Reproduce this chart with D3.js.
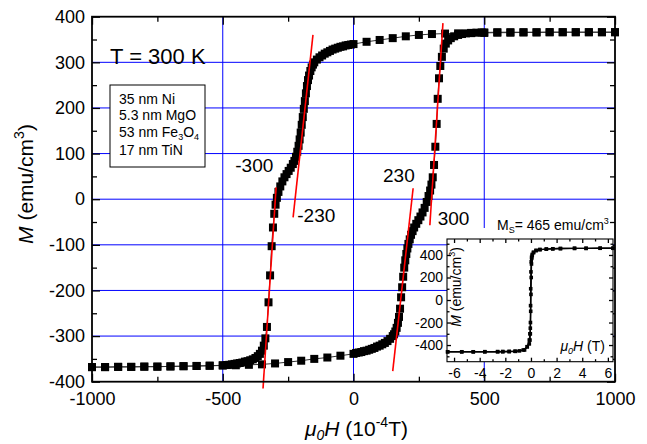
<!DOCTYPE html>
<html>
<head>
<meta charset="utf-8">
<script src="https://cdn.jsdelivr.net/npm/d3@7"></script>
<style>
  body { margin: 0; background: #fff; }
  svg { display: block; font-family: "Liberation Sans", Arial, sans-serif; }
</style>
</head>
<body>
<script>
// descending branch (field swept +1000 -> -1000)
const descH = [1000, 950, 900, 850, 800, 750, 700, 650, 600, 550, 500, 450, 400, 350, 300, 250, 200, 150, 100, 50, 0,
  -10, -20, -30, -40, -50, -60, -70, -80, -90, -100, -110, -120, -130, -140, -150,
  -155, -160, -165, -170, -174, -178, -182, -186, -190, -194, -198, -202, -206, -210,
  -215, -220, -226, -232, -240, -248, -256, -264, -272, -280,
  -287, -293, -298, -303, -308, -313, -319, -325, -331, -337, -343,
  -350, -358, -366, -375, -385, -395, -405, -415, -425, -435, -445, -455, -465, -475, -485, -500,
  -550, -600, -650, -700, -750, -800, -850, -900, -950, -1000];
const descM = [366, 366, 366, 366, 366, 366, 365.5, 365.5, 365, 365, 364.5, 364, 363.5, 363, 362, 360, 357, 353, 349, 345, 340,
  339, 338, 337, 335, 334, 332, 330, 328, 325, 322, 319, 315, 311, 306, 300,
  295, 289, 281, 271, 261, 248, 232, 215, 198, 180, 163, 146, 131, 117,
  104, 93, 84, 77, 69, 62, 55, 48, 39, 28,
  16, 3, -12, -32, -62, -103, -167, -226, -280, -305, -321,
  -332, -339, -344, -348, -351, -353, -355, -356, -358, -359, -360, -361, -362, -363, -363.5, -364,
  -365, -365.5, -366, -366.5, -367, -367, -367.5, -367.5, -368, -368];

// ascending branch (field swept -1000 -> +1000)
const ascH = [-1000, -950, -900, -850, -800, -750, -700, -650, -600, -550, -500, -450, -400, -350, -300, -250, -200, -150, -100, -50, 0,
  10, 20, 30, 40, 50, 60, 70, 80, 90, 100, 110, 120, 130, 140, 150,
  155, 160, 165, 170, 174, 178, 182, 186, 190, 194, 198, 202, 206, 210,
  215, 220, 226, 232, 240, 248, 256, 264, 272, 280,
  287, 293, 298, 303, 308, 313, 318, 322, 327, 332, 338, 345,
  353, 362, 372, 385, 400, 415, 430, 450, 470, 490,
  500, 550, 600, 650, 700, 750, 800, 850, 900, 950, 1000];
const ascM = [-368, -368, -367.5, -367.5, -367, -367, -366.5, -366, -365.5, -365, -364.5, -364, -363, -362, -360, -357, -354, -350, -347, -343, -339,
  -337, -336, -335, -333, -332, -330, -328, -326, -323, -321, -318, -315, -311, -306, -300,
  -296, -290, -282, -271, -258, -240, -215, -193, -170, -150, -134, -120, -108, -98,
  -88, -78, -70, -62, -54, -46, -38, -29, -19, -6,
  7, 19, 32, 48, 75, 115, 165, 220, 265, 292, 312, 330,
  341, 348, 353, 357, 360, 362, 363.5, 364.5, 365, 365.5,
  365.5, 366, 366, 366, 366, 366, 366, 366, 366, 366, 366];

// red tangent lines [H1, M1, H2, M2]
const tangents = [
  [-155, 360, -231, -40],
  [-296, 26, -346, -415],
  [342, 386, 292, -57],
  [150, -377, 228, 24]
];
const notes = [
  { text: "-300", h: -452, m: 59 },
  { text: "-230", h: -215, m: -50 },
  { text: "230", h: 113, m: 37 },
  { text: "300", h: 322, m: -57 }
];

const xMajor = [-1000, -500, 0, 500, 1000];
const xMinor = [-750, -250, 250, 750];
const yMajor = [-400, -300, -200, -100, 0, 100, 200, 300, 400];
const yMinor = [-350, -250, -150, -50, 50, 150, 250, 350];
const xGrid = [-500, 0, 500];
const yGrid = [-300, -200, -100, 0, 100, 200, 300];

const layers = ["35 nm Ni", "5.3 nm MgO", "53 nm Fe|3|O|4", "17 nm TiN"];

// inset: wide field loop in tesla
const inDescT = [6.4, 5.4, 4.3, 3.4, 2.3, 1.7, 1.2, 0.7, 0.4, 0.2, 0.1, 0.05, 0.02, 0, -0.02, -0.03, -0.04, -0.05, -0.08, -0.13, -0.29, -0.6, -1.2, -1.7, -2.2, -2.6, -3.6, -4.5, -5.4, -6.5];
const inDescM = [460, 460, 459, 459, 457, 455, 452, 448, 440, 425, 405, 380, 340, 250, 100, -50, -200, -300, -356, -390, -415, -444, -456, -458, -459, -459, -460, -460, -460, -460];
const inAscT = [-6.5, -5.4, -4.5, -3.6, -2.6, -2.2, -1.7, -1.25, -0.9, -0.5, -0.29, -0.13, -0.08, -0.05, -0.02, 0, 0.02, 0.04, 0.06, 0.1, 0.2, 0.4, 0.7, 1.2, 1.7, 2.3, 3.4, 4.3, 5.4, 6.4];
const inAscM = [-460, -460, -460, -459, -459, -458, -457, -455, -452, -444, -415, -356, -300, -250, -100, 50, 200, 320, 370, 395, 420, 440, 448, 452, 455, 457, 459, 459, 460, 460];
const inXMajor = [-6, -4, -2, 0, 2, 4, 6];
const inXMinor = [-5, -3, -1, 1, 3, 5];
const inYMajor = [-400, -200, 0, 200, 400];
const inYMinor = [-500, -300, -100, 100, 300, 500];

const width = 647, height = 444;
const font = '"Liberation Sans", Arial, sans-serif';

const svg = d3.select("body").append("svg")
  .attr("width", width)
  .attr("height", height);

const x = d3.scaleLinear([-1000, 1000], [92, 615]);
const y = d3.scaleLinear([-400, 400], [381.7, 16.7]);

// grid
const grid = svg.append("g").attr("stroke", "#0000ff").attr("stroke-width", 1);
grid.selectAll(".gx").data(xGrid).join("line").attr("class", "gx")
  .attr("x1", d => x(d)).attr("x2", d => x(d))
  .attr("y1", y(-400)).attr("y2", y(400));
grid.selectAll(".gy").data(yGrid).join("line").attr("class", "gy")
  .attr("y1", d => y(d)).attr("y2", d => y(d))
  .attr("x1", x(-1000)).attr("x2", x(1000));

// data
const branches = [d3.zip(descH, descM), d3.zip(ascH, ascM)];
const line = d3.line().x(d => x(d[0])).y(d => y(d[1]));

svg.append("g").selectAll("path").data(branches).join("path")
  .attr("d", line).attr("fill", "none").attr("stroke", "#333").attr("stroke-width", 1);

svg.append("g").selectAll("g").data(branches).join("g")
  .selectAll("rect").data(d => d).join("rect")
  .attr("x", d => x(d[0]) - 4).attr("y", d => y(d[1]) - 4)
  .attr("width", 8).attr("height", 8).attr("fill", "#000");

// tangents
svg.append("g").selectAll("line").data(tangents).join("line")
  .attr("x1", d => x(d[0])).attr("y1", d => y(d[1]))
  .attr("x2", d => x(d[2])).attr("y2", d => y(d[3]))
  .attr("stroke", "#ff0000").attr("stroke-width", 1.6);

svg.append("g").selectAll("text").data(notes).join("text")
  .attr("x", d => x(d.h)).attr("y", d => y(d.m))
  .attr("font-size", 19).text(d => d.text);

// axes (ticks inside)
function addAxis(axisFn, scale, translate, values, size, labelled, fontSize, pad) {
  const g = svg.append("g").attr("transform", translate)
    .call(axisFn(scale).tickValues(values).tickSize(-size).tickPadding(pad)
      .tickFormat(labelled ? (d => String(d)) : ""));
  g.select(".domain").remove();
  g.selectAll("line").attr("stroke", "#000").attr("stroke-width", 1.3);
  g.attr("font-family", font).attr("font-size", fontSize);
  g.selectAll("text").attr("fill", "#000");
  return g;
}
const atBottom = `translate(0,${y(-400)})`, atTop = `translate(0,${y(400)})`;
const atLeft = `translate(${x(-1000)},0)`, atRight = `translate(${x(1000)},0)`;
addAxis(d3.axisBottom, x, atBottom, xMajor, 8, true, 18, 10.5);
addAxis(d3.axisBottom, x, atBottom, xMinor, 5, false, 18, 0);
addAxis(d3.axisTop, x, atTop, xMajor, 8, false, 18, 0);
addAxis(d3.axisTop, x, atTop, xMinor, 5, false, 18, 0);
addAxis(d3.axisLeft, y, atLeft, yMajor, 8, true, 18, 7);
addAxis(d3.axisLeft, y, atLeft, yMinor, 5, false, 18, 0);
addAxis(d3.axisRight, y, atRight, yMajor, 8, false, 18, 0);
addAxis(d3.axisRight, y, atRight, yMinor, 5, false, 18, 0);

svg.append("rect")
  .attr("x", x(-1000)).attr("y", y(400))
  .attr("width", x(1000) - x(-1000)).attr("height", y(-400) - y(400))
  .attr("fill", "none").attr("stroke", "#000").attr("stroke-width", 1.8);

// titles
svg.append("text").attr("x", 110).attr("y", 64).attr("font-size", 22).text("T = 300 K");

const yTitle = svg.append("text")
  .attr("transform", "translate(33,184) rotate(-90)")
  .attr("text-anchor", "middle").attr("font-size", 21);
yTitle.append("tspan").attr("font-style", "italic").text("M");
yTitle.append("tspan").text(" (emu/cm");
yTitle.append("tspan").attr("font-size", 14).attr("dy", -9).text("3");
yTitle.append("tspan").attr("dy", 9).text(")");

const xTitle = svg.append("text").attr("x", 305).attr("y", 436).attr("font-size", 21);
xTitle.append("tspan").attr("font-style", "italic").text("μ");
xTitle.append("tspan").attr("font-style", "italic").attr("font-size", 14).attr("dy", 4).text("0");
xTitle.append("tspan").attr("font-style", "italic").attr("dy", -4).text("H");
xTitle.append("tspan").text(" (10");
xTitle.append("tspan").attr("font-size", 14).attr("dy", -9).text("-4");
xTitle.append("tspan").attr("dy", 9).text("T)");

// layer stack box
svg.append("rect").attr("x", 110).attr("y", 85).attr("width", 95).attr("height", 82)
  .attr("fill", "#fff").attr("stroke", "#000").attr("stroke-width", 1);
const baselines = [104, 120, 137, 155];
layers.forEach((s, i) => {
  const t = svg.append("text").attr("x", 119).attr("y", baselines[i]).attr("font-size", 14);
  s.split("|").forEach((part, j) => {
    const sp = t.append("tspan").text(part);
    if (j % 2 === 1) sp.attr("font-size", 9).attr("dy", 3);
    else if (j > 0) sp.attr("dy", -3);
  });
});

// inset
const ix = d3.scaleLinear([-6.55, 6.4], [447, 613]);
const iy = d3.scaleLinear([-548, 542], [361.7, 239]);

svg.append("rect").attr("x", 447).attr("y", 228).attr("width", 166).attr("height", 134).attr("fill", "#fff");

const ms = svg.append("text").attr("x", 497).attr("y", 230).attr("font-size", 14);
ms.append("tspan").text("M");
ms.append("tspan").attr("font-size", 9).attr("dy", 3).text("S");
ms.append("tspan").attr("dy", -3).text("= 465 emu/cm");
ms.append("tspan").attr("font-size", 9).attr("dy", -6).text("3");

const inBranches = [d3.zip(inDescT, inDescM), d3.zip(inAscT, inAscM)];
const iline = d3.line().x(d => ix(d[0])).y(d => iy(d[1]));
svg.append("g").selectAll("path").data(inBranches).join("path")
  .attr("d", iline).attr("fill", "none").attr("stroke", "#000").attr("stroke-width", 1.4);
svg.append("g").selectAll("g").data(inBranches).join("g")
  .selectAll("rect").data(d => d).join("rect")
  .attr("x", d => ix(d[0]) - 1.8).attr("y", d => iy(d[1]) - 1.8)
  .attr("width", 3.6).attr("height", 3.6).attr("fill", "#000");

const ib = `translate(0,361.7)`, it = `translate(0,239)`, il = `translate(447,0)`, ir = `translate(613,0)`;
addAxis(d3.axisBottom, ix, ib, inXMajor, 4, true, 14, 6.3);
addAxis(d3.axisBottom, ix, ib, inXMinor, 2.5, false, 14, 0);
addAxis(d3.axisTop, ix, it, inXMajor, 4, false, 14, 0);
addAxis(d3.axisTop, ix, it, inXMinor, 2.5, false, 14, 0);
addAxis(d3.axisLeft, iy, il, inYMajor, 4, true, 14, 4);
addAxis(d3.axisLeft, iy, il, inYMinor, 2.5, false, 14, 0);
addAxis(d3.axisRight, iy, ir, inYMajor, 4, false, 14, 0);
addAxis(d3.axisRight, iy, ir, inYMinor, 2.5, false, 14, 0);

svg.append("rect").attr("x", 447).attr("y", 239).attr("width", 166).attr("height", 122.7)
  .attr("fill", "none").attr("stroke", "#000").attr("stroke-width", 1.1);

const iyTitle = svg.append("text")
  .attr("transform", "translate(461,287) rotate(-90)")
  .attr("text-anchor", "middle").attr("font-size", 14);
iyTitle.append("tspan").attr("font-style", "italic").text("M");
iyTitle.append("tspan").text(" (emu/cm");
iyTitle.append("tspan").attr("font-size", 9).attr("dy", -6).text("3");
iyTitle.append("tspan").attr("dy", 6).text(")");

const ixTitle = svg.append("text").attr("x", 605).attr("y", 351)
  .attr("text-anchor", "end").attr("font-size", 14);
ixTitle.append("tspan").attr("font-style", "italic").text("μ");
ixTitle.append("tspan").attr("font-style", "italic").attr("font-size", 9).attr("dy", 3).text("0");
ixTitle.append("tspan").attr("font-style", "italic").attr("dy", -3).text("H");
ixTitle.append("tspan").text(" (T)");
</script>
</body>
</html>
